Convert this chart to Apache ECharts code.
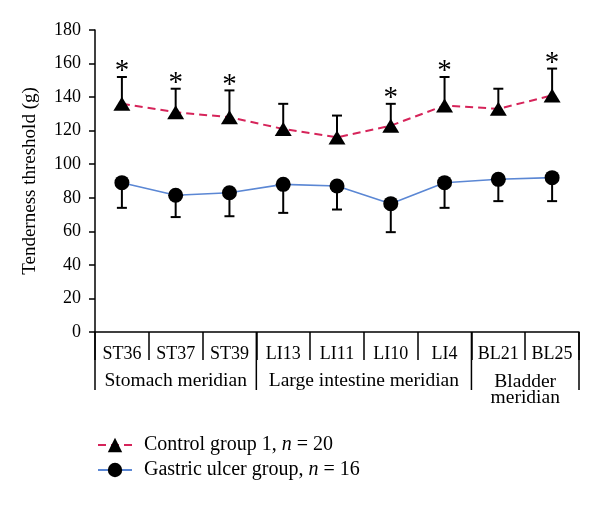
<!DOCTYPE html>
<html>
<head>
<meta charset="utf-8">
<script src="https://cdn.jsdelivr.net/npm/echarts@6/dist/echarts.min.js"></script>
<style>html,body{margin:0;padding:0;background:#fff}#c{width:600px;height:510px}</style>
</head>
<body>
<div id="c"></div>
<script>
// ---- data ----
const categories = ['ST36', 'ST37', 'ST39', 'LI13', 'LI11', 'LI10', 'LI4', 'BL21', 'BL25'];
const groupNames = ['Stomach meridian', 'Large intestine meridian', 'Bladder\nmeridian'];
const groupSizes = [3, 4, 2];
const seriesNames = ['Control group 1', 'Gastric ulcer group'];
const seriesN = [20, 16];
const controlMean = [136, 131, 128, 121, 116, 123, 135, 133, 141];
const controlErr = [16, 14, 16, 15, 13, 13, 17, 12, 16];
const gastricMean = [89, 81.5, 83, 88, 87, 76.5, 89, 91, 92];
const gastricErr = [15, 13, 14, 17, 14, 17, 15, 13, 14];
const significant = [1, 1, 1, 0, 0, 1, 1, 0, 1];
const yTicks = [0, 20, 40, 60, 80, 100, 120, 140, 160, 180];

const FONT = '"Liberation Serif", "Times New Roman", serif';
const chart = echarts.init(document.getElementById('c'), null, {renderer: 'canvas'});

function errData(mean, err, dir, stars) {
  return mean.map((m, i) => [i, m, err[i], dir, stars ? stars[i] : 0]);
}
function renderErr(params, api) {
  const x = api.value(0), m = api.value(1), e = api.value(2), dir = api.value(3), star = api.value(4);
  const p0 = api.coord([x, m]);
  const p1 = api.coord([x, m + dir * e]);
  const children = [
    {type: 'line', shape: {x1: p0[0], y1: p0[1], x2: p1[0], y2: p1[1]}, style: {stroke: '#000', lineWidth: 2}},
    {type: 'line', shape: {x1: p1[0] - 5, y1: p1[1], x2: p1[0] + 5, y2: p1[1]}, style: {stroke: '#000', lineWidth: 2}}
  ];
  if (star) {
    children.push({type: 'text', x: p1[0], y: p1[1] + 9,
      style: {text: '*', fontSize: 29, fontFamily: FONT, fill: '#000', align: 'center', verticalAlign: 'bottom'}});
  }
  return {type: 'group', children};
}

const option = {
  animation: false,
  backgroundColor: '#fff',
  grid: {left: 95, right: 21, top: 30, bottom: 178},
  xAxis: {
    type: 'category', data: categories, boundaryGap: true,
    axisLine: {lineStyle: {color: '#000', width: 1.5}},
    axisTick: {show: true, length: 28, lineStyle: {color: '#000', width: 1.5}},
    axisLabel: {color: '#000', fontSize: 18, fontFamily: FONT, margin: 13, interval: 0}
  },
  yAxis: {
    type: 'value', min: yTicks[0], max: yTicks[yTicks.length - 1], interval: yTicks[1] - yTicks[0],
    name: 'Tenderness threshold (g)', nameLocation: 'middle', nameRotate: 90, nameGap: 55,
    nameTextStyle: {color: '#000', fontSize: 19, fontFamily: FONT},
    axisLine: {show: true, lineStyle: {color: '#000', width: 1.5}},
    axisTick: {show: true, length: 6, lineStyle: {color: '#000', width: 1.5}},
    splitLine: {show: false},
    axisLabel: {color: '#000', fontSize: 18, fontFamily: FONT, margin: 14}
  },
  legend: {
    orient: 'vertical', left: 92, top: 430, itemWidth: 34, itemHeight: 18, itemGap: 5,
    data: seriesNames,
    formatter: name => {
      const i = seriesNames.indexOf(name);
      return '{a|' + name + ', }{i|n}{a| = ' + seriesN[i] + '}';
    },
    textStyle: {color: '#000', fontSize: 20, fontFamily: FONT, padding: [0, 0, 0, 7],
      rich: {a: {fontSize: 20, fontFamily: FONT, color: '#000'},
             i: {fontSize: 20, fontFamily: FONT, color: '#000', fontStyle: 'italic'}}}
  },
  series: [
    {type: 'custom', name: 'errC', data: errData(controlMean, controlErr, 1, significant), renderItem: renderErr, z: 1, silent: true},
    {type: 'custom', name: 'errG', data: errData(gastricMean, gastricErr, -1, null), renderItem: renderErr, z: 1, silent: true},
    {type: 'line', name: seriesNames[0], data: controlMean, z: 3,
      symbol: 'triangle', symbolSize: [17, 14],
      lineStyle: {color: '#d6245a', width: 2, type: [8, 5]},
      itemStyle: {color: '#000', borderWidth: 0}},
    {type: 'line', name: seriesNames[1], data: gastricMean, z: 3,
      symbol: 'circle', symbolSize: 15,
      lineStyle: {color: '#5b87d4', width: 1.6},
      itemStyle: {color: '#000', borderWidth: 0}}
  ]
};
chart.setOption(option);

// group dividers and group labels, positioned from the axis scale
function drawGroups() {
  const c0 = chart.convertToPixel({xAxisIndex: 0}, categories[0]);
  const c1 = chart.convertToPixel({xAxisIndex: 0}, categories[1]);
  const bw = c1 - c0;
  const y0 = chart.convertToPixel({yAxisIndex: 0}, 0);
  const elements = [];
  let start = 0;
  const bounds = [c0 - bw / 2];
  groupSizes.forEach((n, g) => {
    const left = c0 - bw / 2 + start * bw;
    const right = left + n * bw;
    bounds.push(right);
    const multi = groupNames[g].indexOf('\n') >= 0;
    elements.push({type: 'text', x: (left + right) / 2, y: y0 + (multi ? 42 : 39),
      style: {text: groupNames[g], fontSize: 19.5, fontFamily: FONT, fill: '#000', align: 'center',
        verticalAlign: 'top', lineHeight: multi ? 16 : 20}});
    start += n;
  });
  bounds.forEach(b => {
    elements.push({type: 'line', shape: {x1: b, y1: y0, x2: b, y2: y0 + 58}, style: {stroke: '#000', lineWidth: 1.5}});
  });
  chart.setOption({graphic: {elements}});
}
drawGroups();
</script>
</body>
</html>
